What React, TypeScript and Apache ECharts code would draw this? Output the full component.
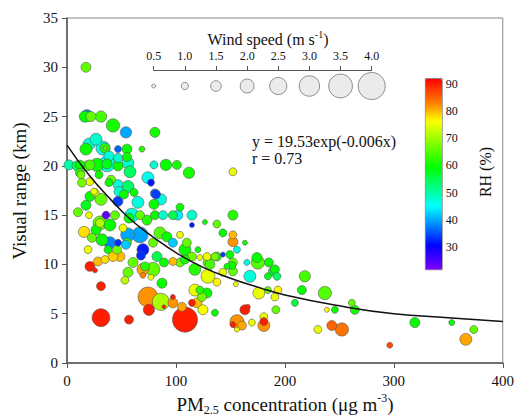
import React, { useEffect, useRef } from 'react';
import * as echarts from 'echarts';

// each point: [PM2.5 (ug m-3), visual range (km), wind speed (m s-1), RH (%)]
const upperCluster: number[][] = [
  [17.4, 30.0, 1.4, 66], [18.3, 25.1, 1.7, 38], [16.5, 25.0, 1.6, 60], [22.0, 25.0, 1.4, 66],
  [31.2, 25.0, 1.6, 64], [42.2, 24.1, 1.9, 61], [54.1, 23.4, 1.6, 40], [80.7, 23.4, 1.4, 61],
  [20.2, 22.2, 1.7, 47], [17.4, 21.7, 1.7, 60], [33.0, 21.8, 2.0, 46], [34.9, 21.8, 1.4, 62],
  [34.9, 21.8, 0.5, 67], [46.8, 21.7, 0.95, 36], [55.0, 21.7, 1.4, 60], [68.8, 21.7, 0.8, 62],
  [26.6, 22.7, 1.7, 48], [38.5, 21.0, 1.4, 47], [46.8, 20.8, 1.25, 48], [55.0, 20.9, 1.25, 60],
  [1.8, 20.1, 1.4, 50], [9.2, 20.0, 1.4, 54], [11.9, 20.1, 1.3, 60], [18.3, 20.0, 1.4, 66],
  [21.1, 20.1, 1.4, 64], [27.5, 20.1, 1.9, 60], [36.7, 20.2, 2.3, 47], [36.7, 20.2, 1.4, 58],
  [46.8, 20.0, 1.4, 60], [56.0, 20.3, 1.7, 48], [57.8, 19.4, 1.7, 54], [79.8, 20.1, 1.1, 48],
  [74.3, 18.8, 1.7, 46], [77.1, 18.3, 0.95, 32], [80.7, 17.2, 1.25, 36], [90.8, 20.1, 1.6, 60],
  [100.9, 20.1, 1.25, 61], [112.0, 19.3, 1.6, 61], [152.3, 19.4, 1.1, 75], [11.9, 19.3, 1.25, 62],
  [12.8, 19.1, 1.1, 67], [13.8, 18.3, 1.25, 67], [21.1, 18.4, 1.1, 75], [25.7, 17.3, 1.1, 75],
  [38.5, 18.3, 1.1, 60], [29.4, 19.1, 1.1, 60], [40.5, 18.6, 1.25, 66], [46.8, 18.1, 1.4, 47],
  [56.0, 17.9, 1.7, 54], [47.7, 17.4, 1.4, 48], [21.1, 16.9, 1.4, 60], [24.8, 17.4, 0.95, 75],
  [52.3, 17.1, 1.25, 60], [61.5, 17.3, 1.1, 60], [81.7, 17.1, 1.25, 34],
];

const midCluster: number[][] = [
  [31.2, 16.6, 1.7, 66], [46.8, 16.4, 1.4, 34], [65.1, 16.3, 1.7, 47], [86.2, 16.6, 1.6, 47],
  [79.8, 16.1, 1.4, 60], [17.4, 16.0, 1.4, 58], [10.1, 15.3, 1.25, 66], [20.2, 15.0, 0.95, 75],
  [35.8, 15.0, 1.1, 24], [30.3, 14.2, 2.0, 66], [30.3, 14.2, 1.25, 71], [39.4, 14.0, 1.7, 60],
  [44.0, 15.0, 1.25, 66], [51.4, 13.7, 1.1, 75], [56.9, 14.7, 1.4, 60], [59.6, 15.0, 2.0, 47],
  [67.0, 15.0, 1.25, 66], [73.4, 14.5, 1.4, 62], [80.7, 15.0, 1.25, 60], [88.1, 15.0, 1.25, 48],
  [97.2, 15.0, 1.25, 55], [103.7, 15.8, 1.1, 60], [101.8, 15.0, 1.4, 44], [114.7, 15.0, 1.4, 48],
  [114.7, 14.0, 0.65, 32], [126.6, 14.3, 0.65, 60], [137.6, 14.1, 1.1, 66], [152.3, 15.0, 1.4, 62],
  [15.6, 13.3, 1.6, 78], [26.6, 13.5, 1.4, 60], [55.7, 13.0, 2.0, 40], [67.0, 13.0, 2.3, 40],
  [85.3, 13.2, 1.7, 65], [91.7, 12.8, 1.4, 60], [103.7, 13.0, 0.95, 75], [143.1, 13.2, 1.1, 60],
  [152.3, 13.0, 1.1, 80],
];

const lowerCluster: number[][] = [
  [39.4, 12.2, 1.7, 38], [46.8, 12.2, 0.95, 33], [55.0, 12.2, 1.25, 64], [54.1, 12.0, 1.25, 42],
  [69.7, 11.5, 1.7, 32], [37.6, 11.5, 1.1, 60], [45.9, 11.5, 1.25, 67], [48.6, 10.8, 1.4, 80],
  [42.2, 10.8, 1.4, 79], [78.9, 12.2, 1.25, 66], [82.6, 10.8, 1.4, 55], [97.2, 12.2, 1.25, 42],
  [108.3, 11.5, 1.7, 60], [110.0, 12.2, 1.25, 66], [114.7, 10.8, 1.25, 67], [120.2, 11.5, 0.8, 60],
  [122.0, 10.7, 0.8, 75], [129.4, 10.2, 1.4, 66], [137.6, 10.8, 1.25, 62], [152.3, 12.3, 1.4, 82],
  [156.0, 11.5, 0.95, 47], [149.5, 11.0, 1.1, 60], [152.3, 10.2, 1.25, 66], [163.3, 12.2, 0.65, 60],
  [174.3, 10.7, 1.4, 60], [143.1, 11.0, 0.65, 34], [135.8, 10.8, 1.1, 67], [128.5, 10.8, 1.1, 75],
  [22.9, 12.7, 1.25, 66], [32.1, 12.5, 1.7, 60], [19.3, 11.5, 1.1, 75], [28.4, 10.3, 1.25, 80],
  [34.9, 10.5, 1.1, 78], [67.9, 10.9, 1.25, 33], [89.0, 10.2, 1.25, 60], [21.1, 9.8, 1.4, 90],
  [25.7, 9.4, 0.65, 90], [60.6, 10.2, 1.4, 66], [56.0, 9.2, 1.4, 66], [53.2, 8.4, 1.1, 72],
  [69.7, 9.5, 1.7, 81], [69.7, 8.9, 0.8, 83], [71.6, 9.8, 1.25, 62], [78.9, 9.5, 2.0, 66],
  [77.1, 8.7, 0.8, 75], [87.2, 8.1, 1.4, 60], [97.2, 10.3, 1.1, 80], [103.7, 10.2, 1.25, 66],
  [108.3, 10.5, 1.25, 61], [117.4, 9.5, 1.7, 62], [131.2, 10.0, 1.4, 64], [129.4, 8.8, 2.0, 75],
  [137.6, 8.2, 1.1, 77], [146.8, 9.8, 0.8, 60], [151.4, 9.9, 1.1, 60], [152.3, 9.3, 1.25, 66],
  [143.1, 9.2, 1.1, 75], [155.0, 8.0, 0.65, 75], [165.1, 10.2, 0.8, 47], [175.2, 10.2, 1.9, 65],
  [185.3, 10.2, 1.25, 60], [189.0, 9.3, 1.25, 58], [167.9, 8.8, 1.7, 47], [184.4, 8.8, 0.95, 58],
  [190.8, 9.5, 1.25, 60], [192.7, 8.8, 1.1, 54],
];

const bottomCluster: number[][] = [
  [31.2, 7.8, 1.25, 90], [74.3, 6.7, 2.9, 82], [86.2, 6.2, 2.5, 71], [89.0, 5.7, 0.5, 90],
  [75.2, 5.4, 1.6, 90], [97.2, 6.7, 0.65, 90], [97.2, 6.1, 1.4, 82], [105.5, 5.7, 1.25, 81],
  [114.7, 6.1, 0.95, 90], [119.3, 6.1, 1.4, 80], [117.4, 7.4, 1.7, 75], [122.0, 7.4, 1.1, 62],
  [128.5, 7.1, 1.4, 60], [123.9, 6.7, 1.25, 67], [124.8, 5.4, 1.4, 76], [135.8, 5.1, 0.95, 60],
  [108.3, 4.4, 3.7, 90], [31.2, 4.6, 2.6, 90], [56.9, 4.4, 1.25, 90], [163.3, 5.4, 1.4, 90],
  [166.0, 5.7, 0.65, 90], [156.0, 4.2, 2.0, 82], [152.3, 3.9, 0.8, 90], [160.6, 3.8, 1.25, 81],
  [156.0, 3.4, 0.65, 75], [169.7, 4.1, 0.95, 75], [180.7, 4.7, 1.1, 75], [180.7, 4.2, 1.1, 90],
  [180.7, 3.8, 1.7, 82], [176.1, 7.1, 1.7, 75], [184.4, 7.4, 0.95, 66], [193.6, 7.4, 1.1, 77],
  [190.8, 6.7, 1.1, 75], [191.7, 5.4, 1.1, 66],
];

const farCluster: number[][] = [
  [218.3, 8.8, 1.6, 64], [215.6, 7.4, 1.25, 60], [209.2, 6.1, 0.95, 56], [236.7, 7.1, 1.9, 65],
  [238.5, 5.4, 0.65, 76], [245.9, 5.4, 0.95, 60], [261.5, 6.1, 0.95, 66], [264.2, 5.4, 1.25, 61],
  [230.3, 3.4, 1.1, 75], [243.1, 3.8, 1.4, 85], [252.3, 3.4, 1.9, 84], [296.3, 1.8, 0.8, 87],
  [319.3, 4.1, 1.4, 60], [353.2, 4.1, 0.8, 60], [373.4, 3.4, 1.1, 66], [366.1, 2.4, 1.7, 81],
];

// fitted curve
const fitX = [0, 20, 40, 60, 80, 100, 125, 150, 175, 200, 250, 300, 350, 400];
const fitY = [22.1, 19.1, 16.6, 14.4, 12.7, 11.2, 9.7, 8.6, 7.7, 6.9, 5.8, 5.0, 4.6, 4.2];

const windLegend = [0.5, 1.0, 1.5, 2.0, 2.5, 3.0, 3.5, 4.0];
const rhTicks = [30, 40, 50, 60, 70, 80, 90];
const rhMin = 21.7;
const rhMax = 92.1;

const rhStops: [number, string][] = [
  [21.7, '#8000ff'], [30.5, '#0000ff'], [45, '#00ffff'], [59.5, '#00ff00'],
  [76.5, '#ffff00'], [83, '#ff8000'], [92.1, '#ff0000'],
];

const FONT = "'Liberation Serif', 'DejaVu Serif', serif";

function hexToRgb(h: string) {
  return [parseInt(h.slice(1, 3), 16), parseInt(h.slice(3, 5), 16), parseInt(h.slice(5, 7), 16)];
}
function colorAt(v: number) {
  for (let i = 0; i < rhStops.length - 1; i++) {
    const [a, ca] = rhStops[i];
    const [b, cb] = rhStops[i + 1];
    if (v <= b || i === rhStops.length - 2) {
      const t = Math.max(0, Math.min(1, (v - a) / (b - a)));
      const A = hexToRgb(ca), B = hexToRgb(cb);
      const c = A.map((x, k) => Math.round(x + (B[k] - x) * t));
      return `rgb(${c[0]},${c[1]},${c[2]})`;
    }
  }
  return rhStops[rhStops.length - 1][1];
}
const rampColors: string[] = [];
for (let i = 0; i <= 70; i++) rampColors.push(colorAt(rhMin + ((rhMax - rhMin) * i) / 70));

const sizeOf = (ws: number) => ws * 6.6 + 0.7;

export default function App() {
  const ref = useRef<HTMLDivElement>(null);
  useEffect(() => {
    if (!ref.current) return;
    const chart = echarts.init(ref.current, undefined, { renderer: 'svg' });
    const points = [...upperCluster, ...midCluster, ...lowerCluster, ...bottomCluster, ...farCluster]
      .slice()
      .sort((a, b) => b[2] - a[2]);
    const labelStyle = { color: '#111', fontFamily: FONT };
    chart.setOption({
      animation: false,
      backgroundColor: '#fff',
      grid: [
        { left: 67, top: 18, width: 436, height: 345, show: true, borderColor: '#888', borderWidth: 1 },
        { left: 153.7, top: 70, width: 218, height: 16 },
        { left: 425, top: 78.3, width: 16.7, height: 191 },
      ],
      xAxis: [
        {
          gridIndex: 0, type: 'value', min: 0, max: 400, interval: 100,
          axisLine: { show: true, onZero: false, lineStyle: { color: '#555', width: 1.5 } },
          axisTick: { show: true, length: 5, lineStyle: { color: '#555' } },
          axisLabel: { ...labelStyle, fontSize: 15, margin: 10 },
          splitLine: { show: false },
        },
        {
          gridIndex: 1, type: 'value', position: 'top', min: 0.5, max: 4, interval: 0.5,
          axisLine: { show: true, onZero: false, lineStyle: { color: '#555', width: 1 } },
          axisTick: { show: true, length: 4, lineStyle: { color: '#555' } },
          axisLabel: { ...labelStyle, fontSize: 12, margin: 8, formatter: (v: number) => v.toFixed(1) },
          splitLine: { show: false },
        },
        { gridIndex: 2, type: 'value', show: false, min: 0, max: 1 },
      ],
      yAxis: [
        {
          gridIndex: 0, type: 'value', min: 0, max: 35, interval: 5,
          axisLine: { show: true, onZero: false, lineStyle: { color: '#555', width: 1.5 } },
          axisTick: { show: true, length: 5, lineStyle: { color: '#555' } },
          axisLabel: { ...labelStyle, fontSize: 15, margin: 9 },
          splitLine: { show: false },
        },
        { gridIndex: 1, type: 'value', show: false, min: 0, max: 1 },
        {
          gridIndex: 2, type: 'value', position: 'right', min: rhMin, max: rhMax,
          axisLine: { show: false },
          axisTick: { show: true, length: 3, customValues: rhTicks, lineStyle: { color: '#333' } },
          axisLabel: { ...labelStyle, fontSize: 12, margin: 4, customValues: rhTicks },
          splitLine: { show: false },
        },
      ],
      visualMap: {
        type: 'continuous', min: rhMin, max: rhMax, dimension: 3, seriesIndex: 0,
        left: 425, top: 78.3, itemWidth: 16.7, itemHeight: 191, padding: 0,
        calculable: false, hoverLink: false, realtime: false,
        borderColor: '#444', borderWidth: 0.8,
        text: null,
        inRange: { color: rampColors },
      },
      series: [
        {
          type: 'scatter', xAxisIndex: 0, yAxisIndex: 0,
          data: points,
          symbolSize: (v: number[]) => sizeOf(v[2]),
          itemStyle: { borderColor: '#555', borderWidth: 0.6, opacity: 1 },
          emphasis: { disabled: true },
        },
        {
          type: 'line', xAxisIndex: 0, yAxisIndex: 0, smooth: true, showSymbol: false,
          data: fitX.map((x, i) => [x, fitY[i]]),
          lineStyle: { color: '#111', width: 1.5 }, z: 5,
        },
        {
          type: 'scatter', xAxisIndex: 1, yAxisIndex: 1,
          data: windLegend.map((w) => [w, 0, w]),
          symbolSize: (v: number[]) => sizeOf(v[2]),
          itemStyle: { color: '#e6e6e6', borderColor: '#555', borderWidth: 0.8 },
          emphasis: { disabled: true },
        },
        { type: 'scatter', xAxisIndex: 2, yAxisIndex: 2, data: [] },
      ],
      graphic: [
        {
          type: 'text', x: 268, y: 39,
          style: {
            text: '{a|Wind speed (m s}{sup|-1}{a|)}', align: 'center', verticalAlign: 'middle',
            rich: {
              a: { fontSize: 16, fontFamily: FONT, fill: '#111', lineHeight: 20, verticalAlign: 'middle' },
              sup: { fontSize: 10, fontFamily: FONT, fill: '#111', verticalAlign: 'top' },
            },
          },
        },
        {
          type: 'text', x: 252, y: 141,
          style: { text: 'y = 19.53exp(-0.006x)', fontSize: 16, fontFamily: FONT, fill: '#111', verticalAlign: 'middle' },
        },
        {
          type: 'text', x: 252, y: 158,
          style: { text: 'r = 0.73', fontSize: 16, fontFamily: FONT, fill: '#111', verticalAlign: 'middle' },
        },
        {
          type: 'text', x: 485, y: 172, rotation: Math.PI / 2,
          style: { text: 'RH (%)', fontSize: 16, fontFamily: FONT, fill: '#111', align: 'center', verticalAlign: 'middle' },
        },
        {
          type: 'text', x: 19, y: 191, rotation: Math.PI / 2,
          style: { text: 'Visual range (km)', fontSize: 19, fontFamily: FONT, fill: '#111', align: 'center', verticalAlign: 'middle' },
        },
        {
          type: 'text', x: 285, y: 404,
          style: {
            text: '{a|PM}{sub|2.5}{a| concentration (μg m}{sup|-3}{a|)}', align: 'center', verticalAlign: 'middle',
            rich: {
              a: { fontSize: 19, fontFamily: FONT, fill: '#111', lineHeight: 24, verticalAlign: 'middle' },
              sub: { fontSize: 12, fontFamily: FONT, fill: '#111', verticalAlign: 'bottom' },
              sup: { fontSize: 12, fontFamily: FONT, fill: '#111', verticalAlign: 'top' },
            },
          },
        },
      ],
    });
    return () => chart.dispose();
  }, []);
  return (
    <div
      ref={ref}
      style={{ position: 'fixed', left: 0, top: 0, width: 517, height: 417, background: '#fff' }}
    />
  );
}
